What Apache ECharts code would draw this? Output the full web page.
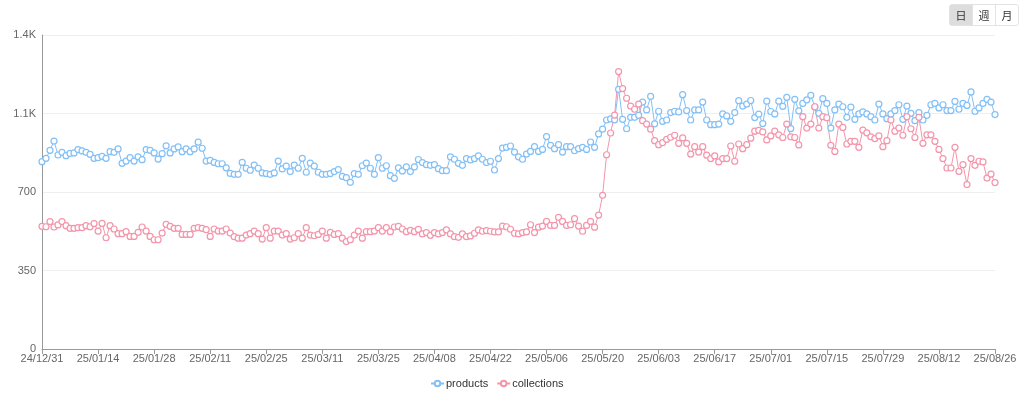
<!DOCTYPE html>
<html>
<head>
<meta charset="utf-8">
<style>
  html, body { margin: 0; padding: 0; background: #fff; }
  #main { width: 1024px; height: 397px; }
  .switch { position: absolute; top: 4px; right: 5px; display: flex; border: 1px solid #e3e3e3; border-radius: 3px;
    font-family: "Noto Sans CJK JP", sans-serif; font-size: 11px; color: #333; }
  .switch span { display: block; width: 22px; height: 20px; line-height: 20px; text-align: center; border-left: 1px solid #e3e3e3; }
  .switch span:first-child { border-left: none; background: #ddd; }
</style>
</head>
<body>
<div id="main"></div>
<div class="switch"><span>日</span><span>週</span><span>月</span></div>
<script src="https://cdn.jsdelivr.net/npm/echarts@6/dist/echarts.min.js"></script>
<script>
// daily dates, 24/12/31 .. 25/08/26
var startDate = new Date(Date.UTC(2024, 11, 31));
var dayCount = 239;
var categories = [];
for (var i = 0; i < dayCount; i++) {
  var d = new Date(startDate.getTime() + i * 86400000);
  var yy = String(d.getUTCFullYear()).slice(2);
  var mm = ('0' + (d.getUTCMonth() + 1)).slice(-2);
  var dd = ('0' + d.getUTCDate()).slice(-2);
  categories.push(yy + '/' + mm + '/' + dd);
}

var products = [
  835, 850, 886, 927, 865, 877, 862, 872, 874, 889,
  883, 877, 868, 850, 853, 859, 850, 880, 877, 892,
  828, 838, 853, 838, 857, 844, 889, 886, 874, 847,
  871, 906, 874, 892, 901, 880, 892, 880, 892, 922,
  895, 838, 841, 832, 826, 826, 808, 783, 779, 779,
  832, 806, 797, 820, 806, 785, 782, 779, 785, 838,
  803, 815, 791, 820, 806, 850, 788, 829, 815, 788,
  779, 779, 782, 791, 800, 770, 764, 743, 782, 779,
  817, 829, 806, 779, 853, 806, 817, 773, 761, 808,
  794, 812, 791, 812, 845, 831, 822, 819, 822, 804,
  795, 795, 857, 846, 828, 819, 849, 843, 849, 861,
  846, 831, 837, 798, 849, 896, 899, 905, 878, 857,
  846, 869, 881, 902, 881, 890, 947, 908, 893, 911,
  878, 902, 902, 884, 893, 899, 890, 923, 899, 959,
  980, 1021, 1026, 1022, 1158, 1024, 982, 1033, 1033, 1042,
  1101, 1066, 1126, 1004, 1060, 1015, 1021, 1054, 1060, 1057,
  1134, 1063, 1021, 1066, 1066, 1101, 1021, 1000, 1000, 1003,
  1048, 1039, 1015, 1054, 1107, 1083, 1092, 1108, 1032, 1047,
  1005, 1105, 1059, 1048, 1105, 1082, 1122, 983, 1113, 1062,
  1095, 1111, 1131, 1080, 1051, 1116, 1095, 985, 1066, 1092,
  1080, 1033, 1078, 1024, 1048, 1057, 1048, 1036, 1021, 1092,
  1048, 1027, 1048, 1063, 1089, 1024, 1083, 1051, 1018, 1054,
  1021, 1042, 1089, 1095, 1075, 1089, 1063, 1063, 1104, 1069,
  1095, 1086, 1146, 1060, 1075, 1095, 1113, 1101, 1045
];

var collections = [
  547, 545, 568, 544, 553, 568, 550, 538, 538, 541,
  541, 550, 545, 559, 526, 560, 496, 550, 535, 514,
  514, 523, 502, 502, 520, 544, 526, 502, 487, 487,
  517, 556, 547, 538, 538, 511, 511, 511, 538, 541,
  538, 532, 502, 535, 526, 526, 535, 517, 501, 494,
  494, 508, 514, 526, 514, 490, 541, 494, 526, 526,
  508, 514, 490, 496, 514, 494, 541, 508, 505, 511,
  526, 494, 520, 511, 514, 494, 479, 487, 508, 526,
  494, 523, 523, 526, 541, 526, 541, 523, 544, 547,
  535, 523, 529, 523, 533, 513, 519, 507, 519, 513,
  519, 531, 513, 501, 498, 513, 501, 504, 516, 531,
  525, 528, 525, 522, 522, 548, 545, 534, 516, 513,
  519, 522, 554, 519, 543, 548, 569, 551, 551, 587,
  569, 551, 554, 581, 548, 525, 551, 569, 543, 597,
  685, 866, 963, 1043, 1237, 1161, 1118, 1083, 1069, 1092,
  1018, 1003, 980, 929, 911, 920, 935, 944, 953, 917,
  941, 917, 869, 902, 878, 902, 864, 849, 861, 834,
  849, 849, 905, 837, 914, 893, 911, 940, 971, 975,
  968, 932, 950, 971, 955, 943, 1003, 946, 943, 910,
  1036, 985, 1003, 1080, 985, 1036, 1031, 908, 881, 1003,
  988, 914, 926, 926, 899, 976, 964, 946, 938, 950,
  902, 929, 1021, 971, 985, 953, 1036, 982, 943, 1033,
  917, 955, 955, 926, 890, 849, 807, 807, 899, 792,
  822, 733, 849, 819, 837, 834, 762, 780, 742
];

var seriesNames = ['products', 'collections'];
var seriesColors = ['#82c0f7', '#f495ab'];

var chartDom = document.getElementById('main');
var myChart = echarts.init(chartDom);

function makeSeries(idx, values) {
  return {
    name: seriesNames[idx],
    type: 'line',
    data: values,
    symbol: 'circle',
    symbolSize: 6,
    showAllSymbol: true,
    color: seriesColors[idx],
    lineStyle: { width: 1, color: seriesColors[idx] },
    itemStyle: { color: '#fff', borderColor: seriesColors[idx], borderWidth: 1.2 }
  };
}

var option = {
  animation: false,
  textStyle: { fontFamily: 'Liberation Sans, Arial, sans-serif' },
  grid: { left: 42, right: 29, top: 35, bottom: 48 },
  legend: {
    data: seriesNames,
    bottom: 8,
    left: 430,
    padding: 0,
    itemWidth: 13,
    itemHeight: 7,
    itemGap: 8,
    textStyle: { color: '#333', fontSize: 11, padding: [0, 0, 0, -3] }
  },
  xAxis: {
    type: 'category',
    data: categories,
    boundaryGap: false,
    axisLine: { lineStyle: { color: '#999' } },
    axisTick: { interval: 13, lineStyle: { color: '#999' } },
    axisLabel: { interval: 13, color: '#666', fontSize: 11, margin: 4 }
  },
  yAxis: {
    type: 'value',
    min: 0,
    max: 1400,
    interval: 350,
    axisLine: { show: true, lineStyle: { color: '#999' } },
    axisTick: { show: false },
    axisLabel: {
      color: '#666',
      fontSize: 11,
      margin: 6,
      formatter: function (v) { return v >= 1000 ? (v / 1000).toFixed(1) + 'K' : v; }
    },
    splitLine: { lineStyle: { color: '#eee' } }
  },
  series: [makeSeries(0, products), makeSeries(1, collections)]
};
myChart.setOption(option);
</script>
</body>
</html>
